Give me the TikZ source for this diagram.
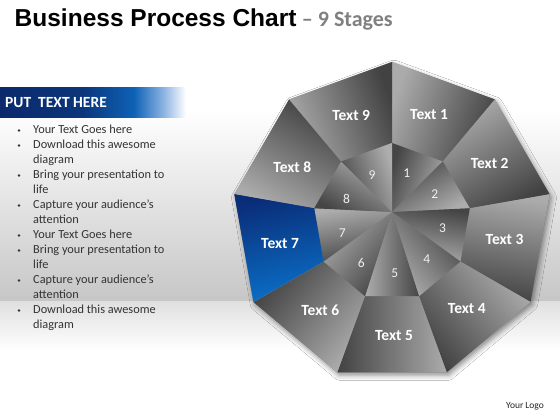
\documentclass[tikz,border=0pt]{standalone}
\usepackage{fontspec}
\setmainfont{Carlito}
\newfontfamily\titlefont{Liberation Sans}
\usetikzlibrary{shadows.blur}

\definecolor{bgGray}{HTML}{C6C6C6}
\definecolor{floorGray}{HTML}{E0E0E0}
\definecolor{titleGray}{HTML}{808080}
\definecolor{segLight}{HTML}{ABABAB}
\definecolor{segDark}{HTML}{424242}
\definecolor{hubLight}{HTML}{ADADAD}
\definecolor{hubDark}{HTML}{454545}
\definecolor{blueDark}{HTML}{0A2D78}
\definecolor{blueLight}{HTML}{0A70C8}
\definecolor{bannerDark}{HTML}{0B2A6C}
\definecolor{bannerMid}{HTML}{0E62B6}
\definecolor{bannerPale}{HTML}{8DB4E2}

\pgfdeclarehorizontalshading{bannershade}{100bp}{color(0bp)=(bannerDark); color(25bp)=(bannerDark); color(47bp)=(bannerDark!80!bannerMid); color(61bp)=(bannerMid); color(69bp)=(bannerPale); color(75bp)=(white); color(100bp)=(white)}

\tikzset{
  seglabel/.style={text=white, font=\bfseries\fontsize{15.5}{18}\selectfont},
  numlabel/.style={text=black!6, font=\fontsize{13.5}{15}\selectfont},
  bullettext/.style={anchor=base west, inner sep=0pt, text=black!80, font=\fontsize{12.3}{15}\selectfont},
  bulletdot/.style={circle, fill=black!80, inner sep=0pt, minimum size=2.8pt}
}

\begin{document}
\begin{tikzpicture}[x=1pt, y=1pt]
    \useasboundingbox (0,0) rectangle (560,420);
    % background and floor
    \fill[white] (0,0) rectangle (560,420);
    \shade[top color=white, bottom color=bgGray] (0,118) rectangle (560,310);
    \shade[top color=floorGray, bottom color=white] (0,70) rectangle (560,118);

    % title
    \node[anchor=base west, inner sep=0pt] (title) at (14.5,393) {\titlefont\bfseries\fontsize{24.5}{28}\selectfont Business Process Chart};
    \node[anchor=base west, inner sep=0pt, text=titleGray] (stages) at ([xshift=5pt]title.base east) {\bfseries\fontsize{22}{24}\selectfont – 9 Stages};

    % left panel
    \shade[shading=bannershade] (0,302) rectangle (186,332);
    \node[anchor=base west, inner sep=0pt, text=white] (banner) at (5,312) {\bfseries\fontsize{15.5}{18}\selectfont PUT\ \ TEXT HERE};
    \foreach \y/\txt in {130/Your Text Goes here, 145/Download this awesome, 160/diagram,
        175/Bring your presentation to, 190/life, 205/Capture your audience’s, 220/attention,
        235/Your Text Goes here, 250/Bring your presentation to, 265/life,
        280/Capture your audience’s, 295/attention, 310/Download this awesome, 325/diagram}
        \node[bullettext] (line\y) at (33,416-\y) {\txt};
    \foreach \y in {130,145,175,205,235,250,280,310}
        \node[bulletdot] (dot\y) at (19,419.5-\y) {};

    % nine stage chart
    \begin{scope}[shift={(392,198)}]
        \coordinate (hub) at (0,10);
        \foreach \k in {0,...,9} {
            \coordinate (in\k) at ({90-40*\k}:79);
            \coordinate (out\k) at ({90-40*\k}:160);
        }
        \path[fill=gray, blur shadow={shadow xshift=2pt, shadow yshift=-3pt, shadow blur radius=5pt, shadow opacity=45}]
            (out0) -- (out1) -- (out2) -- (out3) -- (out4) -- (out5) -- (out6) -- (out7) -- (out8) -- cycle;
        \foreach \k [evaluate=\k as \p using int(\k-1), evaluate=\k as \a using 110-40*\k] in {1,...,9} {
            \shade[top color=segLight, bottom color=segDark, shading angle=\a] (in\p) -- (out\p) -- (out\k) -- (in\k) -- cycle;
            \shade[top color=hubDark, bottom color=hubLight, shading angle=\a] (hub) -- (in\p) -- (in\k) -- cycle;
        }
        % highlighted stage
        \shade[top color=blueDark, bottom color=blueLight, shading angle=12] (in6) -- (out6) -- (out7) -- (in7) -- cycle;
        \foreach \k [evaluate=\k as \a using 111-40*\k] in {1,...,9}
            \node[seglabel] (text\k) at (\a:114) {Text \k};
        \foreach \k [evaluate=\k as \a using 113-40*\k] in {1,...,9}
            \node[numlabel] (num\k) at (\a:51) {\k};
    \end{scope}

    \node[text=black!85, font=\fontsize{9.5}{11}\selectfont] (logo) at (525,14) {Your Logo};
\end{tikzpicture}
\end{document}
